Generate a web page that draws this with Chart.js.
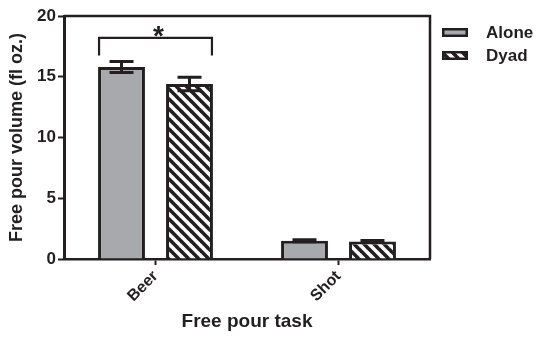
<!DOCTYPE html>
<html>
<head>
<meta charset="utf-8">
<script src="https://cdn.jsdelivr.net/npm/chart.js@4/dist/chart.umd.min.js"></script>
<style>
  html, body { margin: 0; padding: 0; background: #fff; }
  #wrap { width: 536px; height: 337px; }
</style>
</head>
<body>
<div id="wrap"><canvas id="c" width="536" height="337"></canvas></div>
<script>
// Free pour volume by task, poured alone or in a dyad (mean ± SEM)
const tasks = ['Beer', 'Shot'];
const groups = ['Alone', 'Dyad'];
const aloneMean = [15.8, 1.5];
const aloneSem = [0.45, 0.08];
const dyadMean = [14.4, 1.45];
const dyadSem = [0.55, 0.07];
const yTicks = [0, 5, 10, 15, 20];

// Significance bracket over the Beer pair
const bracketTask = 0;
const bracketTop = 18.2;
const bracketFoot = 16.75;
const bracketMark = '*';

const INK = '#231f20';
const GREY = '#a7a9ac';
const FONT = "'Liberation Sans', Arial, Helvetica, sans-serif";

const canvas = document.getElementById('c');
const ctx = canvas.getContext('2d');

// Diagonal hatch used for the Dyad bars
function hatch() {
  const n = 10;
  const tile = document.createElement('canvas');
  tile.width = n; tile.height = n;
  const g = tile.getContext('2d');
  g.fillStyle = '#fff';
  g.fillRect(0, 0, n, n);
  g.strokeStyle = INK;
  g.lineWidth = 3.6;
  for (const k of [-1, 0, 1]) {
    g.beginPath();
    g.moveTo(k * n - 2, -2);
    g.lineTo(k * n + n + 2, n + 2);
    g.stroke();
  }
  return ctx.createPattern(tile, 'repeat');
}

const decor = {
  id: 'decor',
  afterDatasetsDraw(chart) {
    const c = chart.ctx;
    const a = chart.chartArea;
    const y = chart.scales.y;
    c.save();
    c.strokeStyle = INK;
    c.lineCap = 'butt';

    // frame: top and right edges
    c.lineWidth = 2.5;
    c.beginPath();
    c.moveTo(a.left, a.top);
    c.lineTo(a.right, a.top);
    c.lineTo(a.right, a.bottom);
    c.stroke();

    // error bars
    chart.data.datasets.forEach((ds, i) => {
      const meta = chart.getDatasetMeta(i);
      meta.data.forEach((el, j) => {
        const m = ds.data[j], e = ds.err[j];
        const yHi = y.getPixelForValue(m + e);
        const yLo = y.getPixelForValue(m - e);
        c.lineWidth = 3;
        c.beginPath();
        c.moveTo(el.x, yHi); c.lineTo(el.x, yLo);
        c.moveTo(el.x - 12, yHi); c.lineTo(el.x + 12, yHi);
        c.moveTo(el.x - 12, yLo); c.lineTo(el.x + 12, yLo);
        c.stroke();
      });
    });

    // significance bracket
    const b0 = chart.getDatasetMeta(0).data[bracketTask];
    const b1 = chart.getDatasetMeta(1).data[bracketTask];
    const xL = b0.x - b0.width / 2 + 1;
    const xR = b1.x + b1.width / 2 - 1;
    const yT = y.getPixelForValue(bracketTop);
    const yF = y.getPixelForValue(bracketFoot);
    c.lineWidth = 2.2;
    c.beginPath();
    c.moveTo(xL, yF); c.lineTo(xL, yT); c.lineTo(xR, yT); c.lineTo(xR, yF);
    c.stroke();
    c.fillStyle = INK;
    c.font = 'bold 28px ' + FONT;
    c.textAlign = 'center';
    c.textBaseline = 'alphabetic';
    c.fillText(bracketMark, (xL + xR) / 2 + 3, yT + 7);

    // legend
    c.font = 'bold 17px ' + FONT;
    c.textAlign = 'left';
    c.textBaseline = 'middle';
    chart.data.datasets.forEach((ds, i) => {
      const bx = a.right + 12, by = 28 + i * 23, bw = 26, bh = 9;
      c.fillStyle = ds.backgroundColor;
      c.fillRect(bx, by, bw, bh);
      c.lineWidth = 2.5;
      c.strokeStyle = INK;
      c.strokeRect(bx + 1.25, by + 1.25, bw - 2.5, bh - 2.5);
      c.fillStyle = INK;
      c.fillText(ds.label, bx + bw + 18, by + bh / 2 + 0.5);
    });
    c.restore();
  }
};

new Chart(canvas, {
  type: 'bar',
  data: {
    labels: tasks,
    datasets: [
      {
        label: groups[0], data: aloneMean, err: aloneSem,
        backgroundColor: GREY, borderColor: INK, borderWidth: 3
      },
      {
        label: groups[1], data: dyadMean, err: dyadSem,
        backgroundColor: hatch(), borderColor: INK, borderWidth: 3
      }
    ]
  },
  options: {
    responsive: false,
    animation: false,
    devicePixelRatio: 1,
    barPercentage: 0.69,
    categoryPercentage: 0.743,
    layout: { padding: { left: 0, top: 16, right: 106, bottom: 0 } },
    plugins: {
      legend: { display: false },
      tooltip: { enabled: false }
    },
    scales: {
      x: {
        offset: true,
        grid: { offset: false, drawOnChartArea: false, drawTicks: true, tickLength: 6, tickWidth: 2, color: INK },
        border: { color: INK, width: 2.5 },
        ticks: {
          color: INK, minRotation: 45, maxRotation: 45, padding: 2,
          font: { family: FONT, size: 16, weight: 'bold' }
        },
        title: {
          display: true, text: 'Free pour task', color: INK,
          font: { family: FONT, size: 19, weight: 'bold', lineHeight: 1 },
          padding: { top: 0, bottom: 6 }
        },
        afterFit(s) { s.height = 78; }
      },
      y: {
        min: 0, max: 20,
        afterBuildTicks(s) { s.ticks = yTicks.map(v => ({ value: v })); },
        grid: { drawOnChartArea: false, drawTicks: true, tickLength: 6, tickWidth: 2, color: INK },
        border: { color: INK, width: 3 },
        ticks: {
          color: INK, padding: 2,
          font: { family: FONT, size: 17, weight: 'bold' }
        },
        title: {
          display: true, text: 'Free pour volume (fl oz.)', color: INK,
          font: { family: FONT, size: 18, weight: 'bold', lineHeight: 1 },
          padding: { top: 8, bottom: 0 }
        },
        afterFit(s) { s.width = 64; }
      }
    }
  },
  plugins: [decor]
});
</script>
</body>
</html>
